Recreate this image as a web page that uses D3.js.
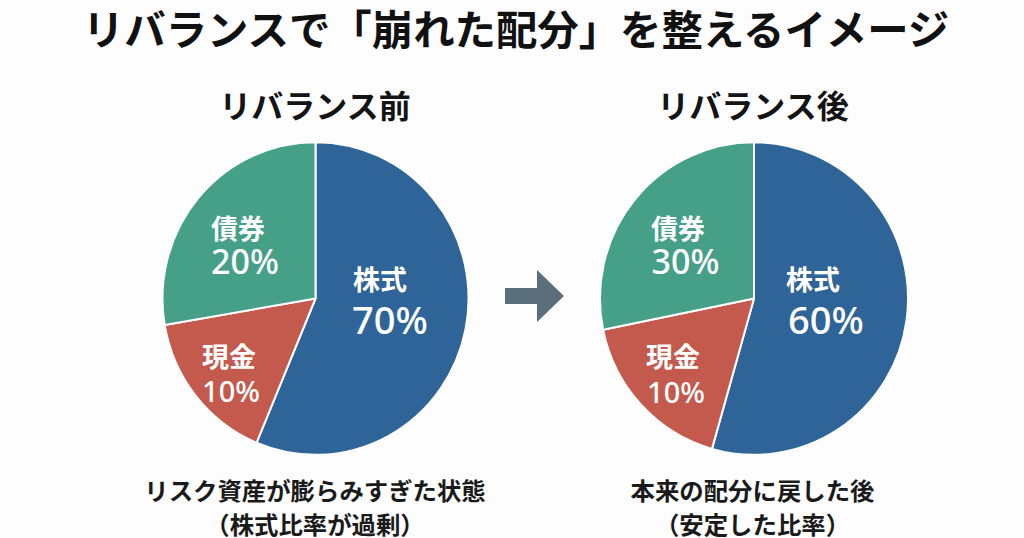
<!DOCTYPE html>
<html lang="ja"><head><meta charset="utf-8">
<script src="https://cdn.jsdelivr.net/npm/d3@7/dist/d3.min.js"></script>
<style>html,body{margin:0;padding:0;background:#fdfdfd}svg{display:block}
text{font-family:"Noto Sans CJK JP","Noto Sans",sans-serif;}</style></head><body>
<script>
const titleText = "リバランスで「崩れた配分」を整えるイメージ";
const categories = ["株式", "現金", "債券"];
const colors = ["#2f6498", "#c4594d", "#46a088"];
const panelTitles = ["リバランス前", "リバランス後"];
// slice sizes as drawn in the picture (differ from the printed labels)
const beforeDrawn = [56.3, 16.0, 27.7];
const afterDrawn = [54.4, 17.4, 28.2];
// values as printed
const beforeLabels = ["70%", "10%", "20%"];
const afterLabels = ["60%", "10%", "30%"];
const beforeCaption = ["リスク資産が膨らみすぎた状態", "（株式比率が過剰）"];
const afterCaption = ["本来の配分に戻した後", "（安定した比率）"];

const W = 1024, H = 538;
const svg = d3.select("body").append("svg").attr("width", W).attr("height", H).attr("viewBox", `0 0 ${W} ${H}`);
svg.append("rect").attr("width", W).attr("height", H).attr("fill", "#fdfdfd");

svg.append("text").attr("x", 516).attr("y", 45).attr("text-anchor", "middle")
  .attr("font-size", 41.4).attr("font-weight", 700).attr("fill", "#111").text(titleText);

const pie = d3.pie().sort(null).value(d => d);
const arc = d3.arc().innerRadius(0);

const panels = [
  {cx: 315.5, cy: 298.5, r: 153, sy: 1.022, vals: beforeDrawn, labels: beforeLabels, title: panelTitles[0], titleX: 315, cap: beforeCaption, capX: 315,
   pos: [[380, 280, 322, 27, 38, 390], [229, 357, 390, 27, 29, 231], [238, 229, 262, 27, 34, 245]]},
  {cx: 754, cy: 298.5, r: 154, sy: 1.015, vals: afterDrawn, labels: afterLabels, title: panelTitles[1], titleX: 753, cap: afterCaption, capX: 752.5,
   pos: [[813, 280, 322, 27, 38, 826], [673, 357, 391, 27, 29, 676], [678, 229, 262, 27, 34, 685.5]]}
];

panels.forEach(p => {
  svg.append("text").attr("x", p.titleX).attr("y", 118).attr("text-anchor", "middle")
    .attr("font-size", 32).attr("font-weight", 700).attr("fill", "#141414").text(p.title);
  const g = svg.append("g").attr("transform", `translate(${p.cx},${p.cy}) scale(1,${p.sy})`);
  g.selectAll("path").data(pie(p.vals)).join("path")
    .attr("d", arc.outerRadius(p.r)).attr("fill", (d, i) => colors[i])
    .attr("stroke", "#fdfdfd").attr("stroke-width", 2).attr("stroke-linejoin", "round");
  p.pos.forEach((q, i) => {
    svg.append("text").attr("x", q[0]).attr("y", q[1]+10).attr("text-anchor", "middle")
      .attr("font-size", q[3]).attr("font-weight", 700).attr("fill", "#fff").text(categories[i]);
    svg.append("text").attr("x", q[5]).attr("y", q[2]+12).attr("text-anchor", "middle")
      .attr("font-size", q[4]).attr("font-weight", 500).attr("fill", "#fff")
      .attr("style", "font-family:'Noto Sans',sans-serif").text(p.labels[i]);
  });
  p.cap.forEach((t, i) => {
    svg.append("text").attr("x", p.capX).attr("y", 500 + i * 34).attr("text-anchor", "middle")
      .attr("font-size", 24.4).attr("font-weight", 700).attr("fill", "#1a1a1a").text(t);
  });
});

// arrow between the pies
const arrow = d3.path();
arrow.moveTo(505, 288); arrow.lineTo(537, 288); arrow.lineTo(537, 270); arrow.lineTo(564, 296);
arrow.lineTo(537, 322); arrow.lineTo(537, 304); arrow.lineTo(505, 304); arrow.closePath();
svg.append("path").attr("d", arrow.toString()).attr("fill", "#5a6e7c");
</script></body></html>
